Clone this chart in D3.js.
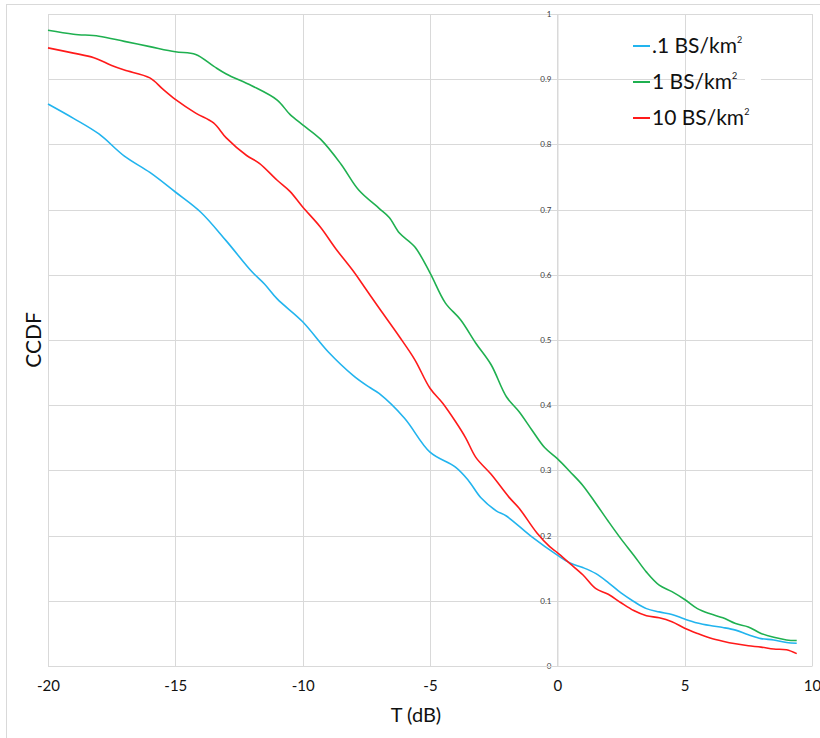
<!DOCTYPE html>
<html><head><meta charset="utf-8">
<script src="https://cdn.jsdelivr.net/npm/d3@7"></script>
<style>
body{margin:0;background:#fff;}
svg{display:block;font-family:Lato,"Open Sans",sans-serif;}
</style></head>
<body><svg id="chart" width="820" height="738"></svg>
<script>
// series: [T (dB), CCDF]
const blue = [[-20,.862],[-19,.840],[-18,.816],[-17,.782],[-16,.757],[-15,.727],[-14,.696],[-13,.652],[-12,.605],
  [-11.5,.586],[-11,.563],[-10,.528],[-9,.482],[-8,.445],[-7.4,.428],[-7,.418],[-6,.380],[-5,.328],[-4,.305],[-3.5,.285],
  [-3,.258],[-2.4,.238],[-2,.230],[-1,.198],[0,.170],[0.5,.158],[1,.151],[1.5,.142],[2,.128],[2.5,.112],[3,.099],[3.5,.088],
  [4,.083],[4.5,.079],[5,.072],[5.5,.066],[6,.062],[6.5,.059],[7,.055],[7.5,.048],[8,.042],[8.5,.040],[9,.036],[9.4,.035]];
const green = [[-20,.975],[-19,.969],[-18,.966],[-17,.958],[-16,.950],[-15,.942],[-14.2,.938],[-13.5,.920],[-13,.908],
  [-12,.890],[-11,.868],[-10.5,.846],[-10,.830],[-9.3,.808],[-8.5,.770],[-7.8,.730],[-7,.702],[-6.6,.688],[-6.2,.664],
  [-5.6,.643],[-5,.603],[-4.4,.557],[-3.8,.531],[-3.2,.495],[-2.6,.462],[-2,.413],[-1.5,.390],[-1,.362],[-0.5,.335],
  [0,.318],[0.5,.298],[1,.277],[1.5,.250],[2,.222],[2.5,.195],[3,.170],[3.5,.144],[4,.124],[4.5,.114],[5,.102],[5.5,.088],
  [6,.080],[6.5,.074],[7,.065],[7.5,.060],[8,.050],[8.5,.044],[9,.040],[9.4,.039]];
const red = [[-20,.948],[-19,.940],[-18.2,.933],[-17.5,.921],[-17,.914],[-16,.902],[-15.5,.885],[-15,.869],[-14.2,.848],
  [-13.5,.833],[-13,.810],[-12.2,.783],[-11.7,.771],[-11,.745],[-10.5,.728],[-10,.704],[-9.3,.673],[-8.7,.640],[-8,.605],
  [-7.5,.577],[-7,.549],[-6.2,.505],[-5.6,.470],[-5,.426],[-4.5,.403],[-4,.375],[-3.6,.350],[-3.2,.320],[-2.6,.294],
  [-1.9,.259],[-1.5,.242],[-0.8,.204],[-0.3,.183],[0,.174],[0.5,.157],[1,.140],[1.5,.119],[2,.110],[2.5,.097],[3,.085],
  [3.5,.077],[4,.074],[4.5,.068],[5,.058],[5.5,.050],[6,.043],[6.5,.038],[7,.034],[7.5,.031],[8,.029],[8.5,.026],[9,.025],[9.4,.019]];
const seriesNames = [".1 BS/km", "1 BS/km", "10 BS/km"];
const seriesColors = ["#22b4ee","#1fb050","#ff1a1a"];
const xTicks = [-20,-15,-10,-5,0,5,10];
const yTicks = [0,.1,.2,.3,.4,.5,.6,.7,.8,.9,1];

const svg = d3.select("#chart");
const x = d3.scaleLinear().domain([-20,10]).range([48,812]);
const y = d3.scaleLinear().domain([0,1]).range([666,14]);

svg.append("rect").attr("x",6.5).attr("y",4.5).attr("width",830).attr("height",750)
  .attr("fill","none").attr("stroke","#d9d9d9");

const grid = svg.append("g").attr("stroke","#d9d9d9").attr("stroke-width",1);
grid.selectAll("line.v").data(xTicks).join("line").attr("class","v")
  .attr("x1",d=>Math.round(x(d))+.5).attr("x2",d=>Math.round(x(d))+.5).attr("y1",y(1)).attr("y2",y(0));
grid.selectAll("line.h").data(yTicks).join("line").attr("class","h")
  .attr("y1",d=>Math.round(y(d))+.5).attr("y2",d=>Math.round(y(d))+.5).attr("x1",x(-20)).attr("x2",x(10));

// y axis sits at T = 0
const yAxis = svg.append("g").attr("transform",`translate(${Math.round(x(0))+.5},0)`)
  .call(d3.axisLeft(y).tickValues(yTicks).tickSize(0).tickPadding(6).tickFormat(d=>d===0?"0":d===1?"1":d3.format(".1f")(d)));
yAxis.select(".domain").attr("stroke","#d9d9d9");
yAxis.selectAll("text").attr("font-size",8).attr("fill","#404040").attr("font-family","Lato,sans-serif");

const xAxis = svg.append("g").attr("transform",`translate(0,${y(0)})`)
  .call(d3.axisBottom(x).tickValues(xTicks).tickSize(0).tickPadding(14).tickFormat(d=>String(d)));
xAxis.select(".domain").attr("stroke","#d9d9d9");
xAxis.selectAll("text").attr("font-size",15).attr("fill","#111").attr("font-family","Lato,sans-serif");

svg.append("text").attr("x",416).attr("y",722).attr("text-anchor","middle")
  .attr("font-size",20).attr("fill","#111").text("T (dB)");
svg.append("text").attr("transform","translate(41,340) rotate(-90)").attr("text-anchor","middle")
  .attr("font-size",21).attr("fill","#111").text("CCDF");

const line = d3.line().x(d=>x(d[0])).y(d=>y(d[1])).curve(d3.curveCatmullRom.alpha(0.5));
svg.append("g").attr("fill","none").attr("stroke-width",1.6)
  .selectAll("path").data([blue,green,red]).join("path")
  .attr("stroke",(d,i)=>seriesColors[i]).attr("d",line);

// legend
svg.append("rect").attr("x",745).attr("y",77).attr("width",16).attr("height",4).attr("fill","#fff");
const leg = svg.append("g").selectAll("g").data(seriesNames).join("g")
  .attr("transform",(d,i)=>`translate(633,${46+i*36})`);
leg.append("line").attr("x1",0).attr("x2",17).attr("stroke",(d,i)=>seriesColors[i]).attr("stroke-width",2);
const lt = leg.append("text").attr("x",19).attr("y",7).attr("font-size",21).attr("fill","#111");
lt.append("tspan").text(d=>d);
lt.append("tspan").attr("font-size",9).attr("dy",-10).text("2");
</script></body></html>
